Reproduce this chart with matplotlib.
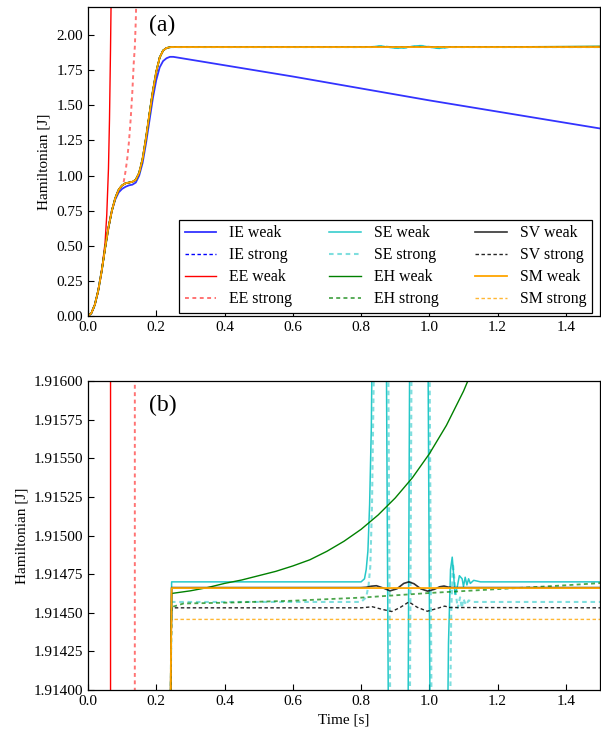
import matplotlib
matplotlib.use("Agg")
import matplotlib.pyplot as plt
import numpy as np

plt.rcParams['font.family'] = ['Liberation Serif', 'DejaVu Serif']
plt.rcParams['mathtext.fontset'] = 'stix'

# ---- shared energy build-up (identical for all stable schemes) ----
t_rise = [0.0, 0.01, 0.02, 0.03, 0.04, 0.05, 0.06, 0.07, 0.08, 0.09, 0.10, 0.11,
          0.12, 0.13, 0.14, 0.15, 0.16, 0.17, 0.18, 0.19, 0.20, 0.21, 0.22, 0.23, 0.24]
H_rise = [0.0, 0.02, 0.08, 0.18, 0.32, 0.48, 0.63, 0.75, 0.84, 0.90, 0.93, 0.945,
          0.95, 0.955, 0.97, 1.02, 1.12, 1.27, 1.44, 1.60, 1.74, 1.84, 1.89, 1.908, 1.9135]

# ---- IE weak: lower plateau, then decays ----
t_ie_weak = [0.0, 0.01, 0.02, 0.03, 0.04, 0.05, 0.06, 0.07, 0.08, 0.09, 0.10, 0.11,
             0.12, 0.13, 0.14, 0.15, 0.16, 0.17, 0.18, 0.19, 0.20, 0.21, 0.22, 0.23,
             0.24, 0.25, 0.40, 0.60, 0.80, 1.00, 1.20, 1.40, 1.50]
H_ie_weak = [0.0, 0.02, 0.08, 0.18, 0.32, 0.48, 0.63, 0.75, 0.83, 0.88, 0.905, 0.92,
             0.93, 0.935, 0.95, 1.00, 1.09, 1.23, 1.39, 1.55, 1.68, 1.77, 1.815, 1.835,
             1.845, 1.845, 1.785, 1.705, 1.62, 1.535, 1.455, 1.375, 1.335]

# ---- IE strong ----
t_ie_strong_tail = [0.245, 1.50]
H_ie_strong_tail = [1.9138, 1.9138]

# ---- EE weak / strong: blow up ----
t_ee_weak = [0.0, 0.01, 0.02, 0.03, 0.04, 0.05, 0.055, 0.06, 0.063, 0.066, 0.068, 0.070, 0.075]
H_ee_weak = [0.0, 0.02, 0.08, 0.18, 0.32, 0.52, 0.72, 1.05, 1.40, 1.90, 2.30, 2.80, 5.00]

t_ee_strong = [0.0, 0.01, 0.02, 0.03, 0.04, 0.05, 0.06, 0.07, 0.08, 0.09, 0.10, 0.105,
               0.11, 0.115, 0.12, 0.125, 0.13, 0.134, 0.1372, 0.140, 0.143, 0.150]
H_ee_strong = [0.0, 0.02, 0.08, 0.18, 0.32, 0.48, 0.63, 0.75, 0.84, 0.90, 0.93, 0.96,
               1.03, 1.12, 1.24, 1.40, 1.60, 1.80, 1.915, 2.10, 2.40, 4.00]

# ---- SE weak / strong ----
t_se_weak_tail = [0.245, 0.80, 0.810, 0.815, 0.820, 0.825, 0.830, 0.835, 0.845, 0.855,
                  0.865, 0.872, 0.877, 0.882, 0.895, 0.910, 0.925, 0.935, 0.940, 0.945,
                  0.960, 0.970, 0.985, 0.994, 0.999, 1.004, 1.020, 1.030, 1.045, 1.050,
                  1.056, 1.062, 1.067, 1.071, 1.075, 1.081, 1.088, 1.096, 1.100, 1.105,
                  1.110, 1.115, 1.120, 1.130, 1.150, 1.50]
H_se_weak_tail = [1.91470, 1.91470, 1.91472, 1.91478, 1.91490, 1.91520, 1.91570, 1.91680,
                  1.92000, 1.92200, 1.92000, 1.91700, 1.91500, 1.91300, 1.90850, 1.90700,
                  1.90900, 1.91250, 1.91500, 1.91750, 1.92250, 1.92400, 1.92100, 1.91700,
                  1.91500, 1.91300, 1.90700, 1.90600, 1.91000, 1.91300, 1.91430, 1.91478,
                  1.91486, 1.91475, 1.91462, 1.91466, 1.91474, 1.91472, 1.91467, 1.91473,
                  1.91468, 1.91472, 1.91469, 1.91471, 1.91470, 1.91470]

t_se_strong_tail = [0.245, 0.80, 0.815, 0.822, 0.827, 0.832, 0.837, 0.842, 0.852, 0.862,
                    0.872, 0.878, 0.883, 0.888, 0.900, 0.915, 0.930, 0.940, 0.945, 0.950,
                    0.965, 0.975, 0.990, 0.999, 1.004, 1.009, 1.025, 1.035, 1.050, 1.058,
                    1.064, 1.069, 1.076, 1.083, 1.090, 1.095, 1.100, 1.107, 1.115, 1.130, 1.50]
H_se_strong_tail = [1.91457, 1.91457, 1.91460, 1.91468, 1.91480, 1.91520, 1.91600, 1.91720,
                    1.92000, 1.92150, 1.91950, 1.91680, 1.91480, 1.91280, 1.90880, 1.90720,
                    1.90920, 1.91250, 1.91480, 1.91720, 1.92200, 1.92350, 1.92050, 1.91680,
                    1.91480, 1.91280, 1.90720, 1.90640, 1.91050, 1.91320, 1.91450, 1.91482,
                    1.91465, 1.91453, 1.91460, 1.91453, 1.91459, 1.91455, 1.91458, 1.91457, 1.91457]

# ---- EH weak / strong ----
t_eh_weak_tail = [0.245, 0.30, 0.35, 0.40, 0.45, 0.50, 0.55, 0.60, 0.65, 0.70, 0.75,
                  0.80, 0.85, 0.90, 0.95, 1.00, 1.05, 1.10, 1.15, 1.20, 1.25, 1.30,
                  1.35, 1.40, 1.45, 1.50]
H_eh_weak_tail = [1.914625, 1.914642, 1.914663, 1.914690, 1.914712, 1.914740, 1.914768,
                  1.914803, 1.914843, 1.914898, 1.914963, 1.915040, 1.915133, 1.915243,
                  1.915373, 1.915529, 1.915713, 1.915934, 1.916196, 1.916508, 1.916880,
                  1.917321, 1.917845, 1.918473, 1.919220, 1.920102]

t_eh_strong_tail = [0.245, 0.25, 0.28, 0.40, 0.60, 0.80, 1.00, 1.20, 1.40, 1.50]
H_eh_strong_tail = [1.914530, 1.914540, 1.914560, 1.914565, 1.914578, 1.914598, 1.914628,
                    1.914653, 1.914678, 1.914692]

# ---- SV weak / strong ----
t_sv_weak_tail = [0.245, 0.80, 0.815, 0.830, 0.845, 0.865, 0.885, 0.905, 0.925, 0.940,
                  0.955, 0.975, 0.995, 1.015, 1.030, 1.043, 1.055, 1.070, 1.50]
H_sv_weak_tail = [1.914663, 1.914663, 1.914665, 1.914672, 1.914675, 1.914660, 1.914642,
                  1.914655, 1.914690, 1.914700, 1.914688, 1.914655, 1.914640, 1.914652,
                  1.914668, 1.914673, 1.914666, 1.914663, 1.914663]

t_sv_strong_tail = [0.245, 0.80, 0.815, 0.833, 0.862, 0.890, 0.915, 0.940, 0.965, 0.994,
                    1.018, 1.045, 1.060, 1.50]
H_sv_strong_tail = [1.914532, 1.914532, 1.914535, 1.914539, 1.914522, 1.914508, 1.914535,
                    1.914570, 1.914535, 1.914510, 1.914525, 1.914543, 1.914534, 1.914532]

# ---- SM weak / strong ----
t_sm_weak_tail = [0.245, 1.50]
H_sm_weak_tail = [1.914660, 1.914660]
t_sm_strong_tail = [0.245, 1.50]
H_sm_strong_tail = [1.914457, 1.914457]


def full(t_tail, h_tail):
    return np.array(t_rise + t_tail), np.array(H_rise + h_tail)


series = [
    ("IE weak", np.array(t_ie_weak), np.array(H_ie_weak),
     dict(color='blue', lw=1.3, alpha=0.8)),
    ("IE strong", *full(t_ie_strong_tail, H_ie_strong_tail),
     dict(color='blue', lw=1.0, ls=(0, (2.5, 1.8)))),
    ("EE weak", np.array(t_ee_weak), np.array(H_ee_weak),
     dict(color='red', lw=1.0)),
    ("EE strong", np.array(t_ee_strong), np.array(H_ee_strong),
     dict(color='red', lw=1.4, alpha=0.55, ls=(0, (2.0, 1.8)))),
    ("SE weak", *full(t_se_weak_tail, H_se_weak_tail),
     dict(color='#00bfbf', lw=1.1, alpha=0.85)),
    ("SE strong", *full(t_se_strong_tail, H_se_strong_tail),
     dict(color='#00bfbf', lw=1.5, alpha=0.5, ls=(0, (2.2, 1.8)))),
    ("EH weak", *full(t_eh_weak_tail, H_eh_weak_tail),
     dict(color='green', lw=1.0)),
    ("EH strong", *full(t_eh_strong_tail, H_eh_strong_tail),
     dict(color='green', lw=1.3, alpha=0.7, ls=(0, (2.2, 1.8)))),
    ("SV weak", *full(t_sv_weak_tail, H_sv_weak_tail),
     dict(color='black', lw=1.2, alpha=0.8)),
    ("SV strong", *full(t_sv_strong_tail, H_sv_strong_tail),
     dict(color='black', lw=1.0, alpha=0.85, ls=(0, (2.5, 1.8)))),
    ("SM weak", *full(t_sm_weak_tail, H_sm_weak_tail),
     dict(color='orange', lw=1.3)),
    ("SM strong", *full(t_sm_strong_tail, H_sm_strong_tail),
     dict(color='orange', lw=1.0, alpha=0.8, ls=(0, (2.5, 1.8)))),
]

fig = plt.figure(figsize=(6.01, 7.35), dpi=100)
ax_a = fig.add_axes([0.1464, 0.5701, 0.8520, 0.4204])
ax_b = fig.add_axes([0.1464, 0.0612, 0.8520, 0.4204])

FS = 11
for ax in (ax_a, ax_b):
    for name, t, h, st in series:
        ax.plot(t, h, label=name, **st)
    ax.set_xlim(0.0, 1.5)
    ax.set_xticks(np.arange(0.0, 1.41, 0.2))
    ax.xaxis.set_major_formatter(plt.FormatStrFormatter('%.1f'))
    ax.tick_params(direction='in', labelsize=FS, length=4, width=0.8,
                   top=False, right=False)
    ax.set_ylabel('Hamiltonian [J]', fontsize=FS)
    for sp in ax.spines.values():
        sp.set_linewidth(0.9)

ax_a.set_ylim(0.0, 2.2)
ax_a.set_yticks(np.arange(0.0, 2.01, 0.25))
ax_a.yaxis.set_major_formatter(plt.FormatStrFormatter('%.2f'))
ax_a.text(0.12, 0.975, '(a)', transform=ax_a.transAxes, fontsize=17, va='top', ha='left')

ax_b.set_ylim(1.914, 1.916)
ax_b.set_yticks(np.linspace(1.914, 1.916, 9))
ax_b.yaxis.set_major_formatter(plt.FormatStrFormatter('%.5f'))
ax_b.set_xlabel('Time [s]', fontsize=FS)
ax_b.text(0.12, 0.955, '(b)', transform=ax_b.transAxes, fontsize=17, va='top', ha='left')

leg = ax_a.legend(loc='lower right', bbox_to_anchor=(0.984, 0.01), borderaxespad=0,
                  ncol=3, fontsize=11.4, fancybox=False, framealpha=1,
                  edgecolor='black', handlelength=2.0, handletextpad=0.8,
                  columnspacing=2.35, labelspacing=0.38, borderpad=0.35)
leg.get_frame().set_linewidth(0.9)

fig.savefig('out.png', dpi=100)
